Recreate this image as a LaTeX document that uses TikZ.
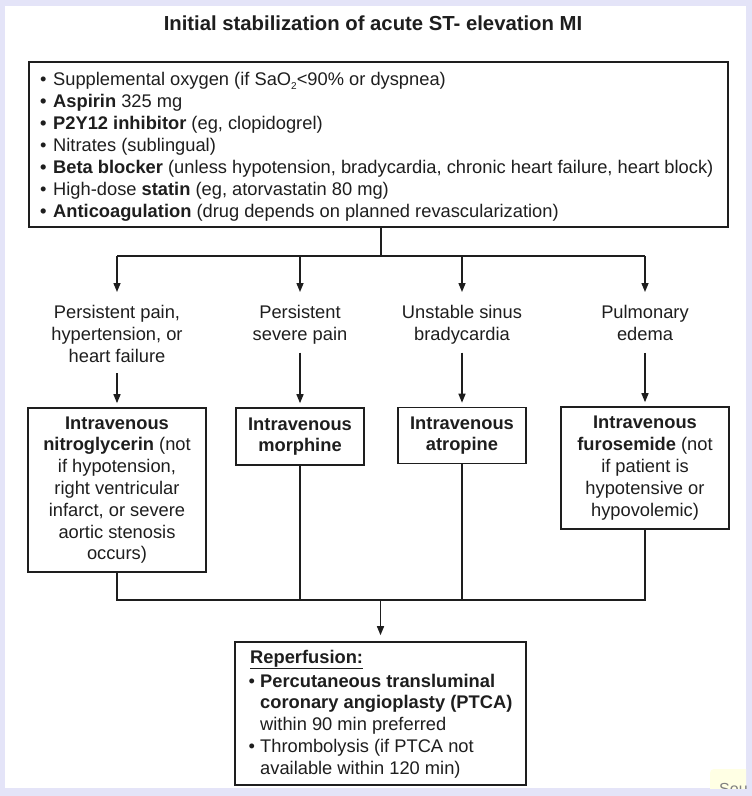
\documentclass[tikz,border=0pt]{standalone}
\usepackage{fontspec}
\setmainfont{Liberation Sans}
\usetikzlibrary{arrows.meta}
\definecolor{bgl}{RGB}{228,228,248}
\definecolor{ink}{RGB}{30,30,30}
\definecolor{tipy}{RGB}{255,255,228}
\newcommand{\mysub}[1]{\raisebox{-4pt}{\fontsize{10}{10}\selectfont #1}}
\begin{document}
\begin{tikzpicture}[x=1pt,y=-1pt,
  line/.style={draw=ink, line width=1.4pt},
  arr/.style={line, -{Triangle[length=9pt,width=7pt]}},
  box/.style={draw=ink, line width=1.6pt, inner sep=0pt, align=center,
    font=\fontsize{18.3}{21.8}\selectfont, text=ink},
  lbl/.style={inner sep=0pt, align=center, anchor=north,
    font=\fontsize{18.3}{21.8}\selectfont, text=ink},
  lst/.style={inner sep=0pt, anchor=base west,
    font=\fontsize{18.3}{22}\selectfont, text=ink},
]
\fill[bgl] (0,0) rectangle (752,796);
\fill[white] (5,6) rectangle (746,788);
\useasboundingbox (0,0) rectangle (752,796);

% title
\node[font=\bfseries\fontsize{20.3}{24}\selectfont, text=ink] (title) at (373,23)
  {Initial stabilization of acute ST- elevation MI};

% top box
\node[box, minimum width=699pt, minimum height=165pt] (top) at (378.5,144.5) {};
\node[lst] (l1) at (40,85) {\makebox[13pt][l]{•}Supplemental oxygen (if SaO\mysub{2}<90\% or dyspnea)};
\node[lst] (l2) at (40,107) {\makebox[13pt][l]{\textbf{•}}\textbf{Aspirin} 325 mg};
\node[lst] (l3) at (40,129) {\makebox[13pt][l]{\textbf{•}}\textbf{P2Y12 inhibitor} (eg, clopidogrel)};
\node[lst] (l4) at (40,151) {\makebox[13pt][l]{•}Nitrates (sublingual)};
\node[lst] (l5) at (40,173) {\makebox[13pt][l]{\textbf{•}}\textbf{Beta blocker} (unless hypotension, bradycardia, chronic heart failure, heart block)};
\node[lst] (l6) at (40,195) {\makebox[13pt][l]{•}High-dose \textbf{statin} (eg, atorvastatin 80 mg)};
\node[lst] (l7) at (40,217) {\makebox[13pt][l]{\textbf{•}}\textbf{Anticoagulation} (drug depends on planned revascularization)};

% condition labels
\node[lbl] (c1) at (117,305) {Persistent pain,\\hypertension, or\\heart failure};
\node[lbl] (c2) at (300,305) {Persistent\\severe pain};
\node[lbl] (c3) at (462,305) {Unstable sinus\\bradycardia};
\node[lbl] (c4) at (645,305) {Pulmonary\\edema};

% treatment boxes
\node[box, minimum width=178pt, minimum height=164pt] (b1) at (117,490)
  {\textbf{Intravenous}\\\textbf{nitroglycerin} (not\\if hypotension,\\right ventricular\\infarct, or severe\\aortic stenosis\\occurs)};
\node[box, minimum width=128pt, minimum height=57pt] (b2) at (300,436.5)
  {\textbf{Intravenous}\\\textbf{morphine}};
\node[box, minimum width=128pt, minimum height=56pt] (b3) at (462,435.5)
  {\textbf{Intravenous}\\\textbf{atropine}};
\node[box, minimum width=168pt, minimum height=122pt] (b4) at (645,468)
  {\textbf{Intravenous}\\\textbf{furosemide} (not\\if patient is\\hypotensive or\\hypovolemic)};

% reperfusion box
\node[box, minimum width=291pt, minimum height=143pt] (rep) at (380.5,713.5) {};
\node[lst] (r0) at (250,663) {\textbf{\underline{Reperfusion:}}};
\node[lst] (r1) at (248.5,687) {\makebox[11.5pt][l]{•}\textbf{Percutaneous transluminal}};
\node[lst] (r2) at (260,708) {\textbf{coronary angioplasty (PTCA)}};
\node[lst] (r3) at (260,730) {within 90 min preferred};
\node[lst] (r4) at (248.5,752) {\makebox[11.5pt][l]{•}Thrombolysis (if PTCA not};
\node[lst] (r5) at (260,774) {available within 120 min)};

% upper connectors
\coordinate (hub) at (381,256);
\draw[line] (top.south -| hub) -- (hub);
\draw[line] (b1.north |- hub) -- (b4.north |- hub);
\draw[arr, shorten >=13pt] (b1.north |- hub) -- (c1.north);
\draw[arr, shorten >=13pt] (b2.north |- hub) -- (c2.north);
\draw[arr, shorten >=13pt] (b3.north |- hub) -- (c3.north);
\draw[arr, shorten >=13pt] (b4.north |- hub) -- (c4.north);
\draw[arr] ([yshift=-11pt]c1.south) -- ([yshift=4pt]b1.north);
\draw[arr] ([yshift=-8.4pt]c2.south) -- ([yshift=4pt]b2.north);
\draw[arr] ([yshift=-8.4pt]c3.south) -- ([yshift=4pt]b3.north);
\draw[arr] ([yshift=-12.2pt]c4.south) -- ([yshift=4pt]b4.north);

% lower connectors
\coordinate (hub2) at (380.5,600);
\draw[line] (b1.south) -- (b1.south |- hub2) -- (b4.south |- hub2) -- (b4.south);
\draw[line] (b2.south) -- (b2.south |- hub2);
\draw[line] (b3.south) -- (b3.south |- hub2);
\draw[arr, shorten >=6pt] (hub2) -- (rep.north);

% cut-off tooltip at bottom right
\begin{scope}
  \clip (700,760) rectangle (746,788);
  \fill[tipy, rounded corners=4pt] (710,769) rectangle (770,800);
  \node[inner sep=0pt, anchor=base west, text=gray, font=\fontsize{16}{16}\selectfont] (src) at (719,794) {Sou};
\end{scope}
\end{tikzpicture}
\end{document}
